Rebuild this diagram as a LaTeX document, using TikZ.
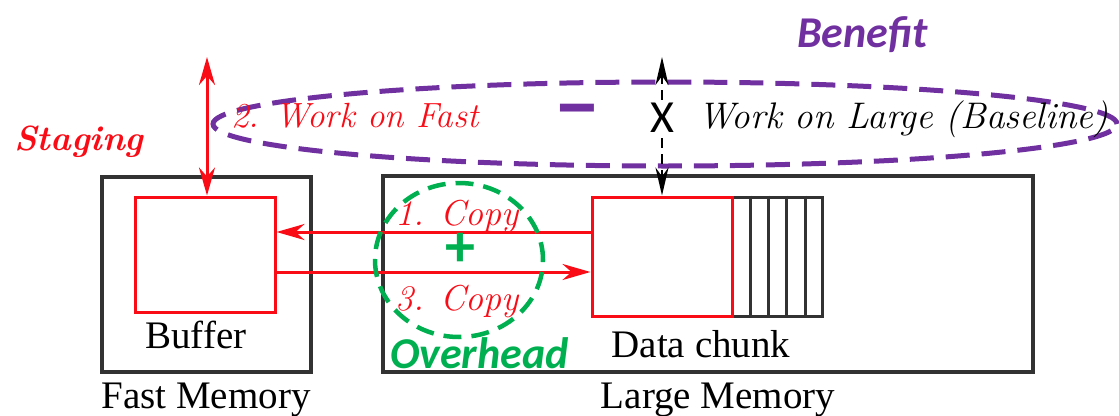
\documentclass[tikz,border=0pt]{standalone}
\usepackage{fontspec}
\newfontfamily\timesr{Liberation Serif}
\newfontfamily\calib{Carlito}[
  BoldFont={Carlito Bold},
  BoldItalicFont={Carlito Bold Italic}]
\usetikzlibrary{arrows.meta,shapes.geometric}

\definecolor{redc}{RGB}{250,12,22}
\definecolor{purplec}{RGB}{112,48,160}
\definecolor{greenc}{RGB}{0,176,80}
\definecolor{boxc}{RGB}{50,50,50}

\tikzset{
  membox/.style={draw=boxc, line width=3.2pt, inner sep=0pt},
  redbox/.style={draw=redc, line width=3pt, inner sep=0pt, fill=white},
  label/.style={inner sep=0pt, font=\timesr\fontsize{39}{46}\selectfont},
  italabel/.style={inner sep=0pt, font=\fontsize{37}{42}\selectfont\itshape},
  copylabel/.style={inner sep=0pt, text=redc, font=\fontsize{36}{42}\selectfont\itshape},
  redarrow/.style={draw=redc, line width=3pt, -{Stealth[length=28pt,width=16pt,inset=9pt]}},
  redboth/.style={draw=redc, line width=3pt, {Stealth[length=28pt,width=16pt,inset=9pt]}-{Stealth[length=28pt,width=16pt,inset=9pt]}},
  blackboth/.style={draw=black, line width=2.5pt, dash pattern=on 10pt off 6pt,
    {Stealth[length=28pt,width=13pt,inset=9pt]}-{Stealth[length=28pt,width=13pt,inset=9pt]}},
  benefitring/.style={draw=purplec, line width=5pt, dash pattern=on 24pt off 12pt},
  overheadring/.style={draw=greenc, line width=4.5pt, dash pattern=on 18pt off 10pt},
  callout/.style={inner sep=0pt, font=\calib\fontsize{44}{52}\selectfont\bfseries\itshape},
}

\begin{document}
\begin{tikzpicture}[x=1pt,y=-1pt]
\useasboundingbox (0,0) rectangle (1119,415);

% memory boxes
\node[membox, minimum width=209pt, minimum height=195pt] (fast) at (206.5,274.5) {};
\node[membox, minimum width=650pt, minimum height=196pt] (large) at (708,274) {};

% buffer and data chunk
\node[redbox, minimum width=140pt, minimum height=115pt] (buffer) at (205,254.5) {};
\node[draw=boxc, line width=3pt, inner sep=0pt, minimum width=90pt, minimum height=119pt] (stripes) at (777,256.5) {};
\foreach \sx in {750,768,786,805}
  \draw[boxc, line width=3pt] (stripes.north -| \sx,0) -- (stripes.south -| \sx,0);
\node[redbox, minimum width=140pt, minimum height=119pt] (chunk) at (662,256.5) {};

% box captions
\node[label, anchor=base] (buflab) at (196,348) {Buffer};
\node[label, anchor=base] (fastlab) at (206,408) {Fast Memory};
\node[label, anchor=base] (chunklab) at (701,357) {Data chunk};
\node[label, anchor=base] (largelab) at (718,408) {Large Memory};

% copy transfers
\coordinate (c1) at (0,232);
\coordinate (c3) at (0,272);
\draw[redarrow] (chunk.west |- c1) -- (buffer.east |- c1);
\draw[redarrow] (buffer.east |- c3) -- (chunk.west |- c3);
\node[copylabel, anchor=base] (copy1) at (457,225) {1. Copy};
\node[copylabel, anchor=base] (copy3) at (457,310) {3. Copy};

% overhead ring
\node[overheadring, ellipse, minimum width=168pt, minimum height=154pt, inner sep=0pt] (ovring) at (459,260) {};
\node[inner sep=0pt, text=greenc, font=\calib\fontsize{60}{60}\selectfont\bfseries] (plus) at (460,250) {+};
\node[callout, text=greenc, anchor=base west] (overhead) at (390,368) {Overhead};

% benefit ring
\draw[benefitring] (665,124) ellipse [x radius=452pt, y radius=42pt];
\node[callout, text=purplec, anchor=base west] (benefit) at (797,47) {Benefit};

% staging and work arrows
\coordinate (stagetop) at (207,57);
\draw[redboth] (stagetop) -- (buffer.north -| stagetop);
\coordinate (worktop) at (662,57);
\draw[blackboth] (worktop) -- (chunk.north -| worktop);
\node[inner sep=0pt, text=redc, anchor=base west, font=\fontsize{35}{42}\selectfont\bfseries\itshape] (staging) at (14,150) {Staging};
\node[inner sep=0pt, text=redc, anchor=base west, font=\fontsize{35}{40}\selectfont\itshape] (workfast) at (231,127) {2. Work on Fast};
\node[inner sep=0pt, text=purplec, font=\calib\fontsize{64}{64}\selectfont\bfseries] (minus) at (577,119) {\scalebox{1.5}[1.4]{–}};
\node[inner sep=0pt, fill=white, font=\calib\fontsize{46}{50}\selectfont] (cross) at (662,118) {X};
\node[italabel, anchor=base west] (worklarge) at (698,128) {Work on Large (Baseline)};
\end{tikzpicture}
\end{document}
